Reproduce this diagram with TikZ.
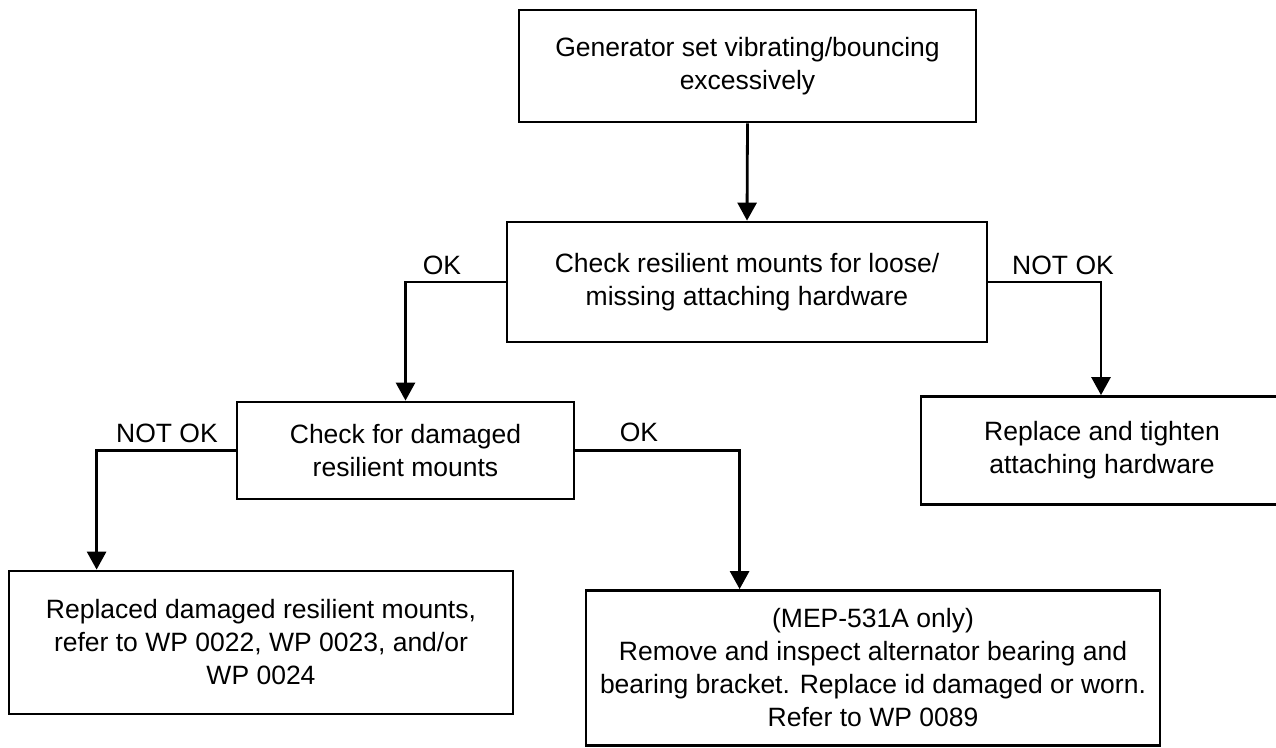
\documentclass[tikz,border=0pt]{standalone}
\usepackage{fontspec}
\setmainfont{Liberation Sans}
\usetikzlibrary{arrows.meta,positioning,calc}
\begin{document}
\begin{tikzpicture}[x=1pt,y=-1pt,
  font=\fontsize{26.5}{33}\selectfont,
  box/.style={draw=black,line width=2.8pt,rectangle,align=center,inner sep=0pt,
    minimum width=#1},
  conn/.style={draw=black,line width=2.8pt,-{Triangle[length=18pt,width=19pt]}},
  lbl/.style={inner sep=0pt}]
\useasboundingbox (0,0) rectangle (1276,747);
\fill[white] (0,0) rectangle (1276,747);
\node[box=457pt,minimum height=112pt] (b1) at (747.5,66) {Generator set vibrating/bouncing\\excessively};
\node[box=480pt,minimum height=120pt] (b2) at (747,282) {Check resilient mounts for loose/\\missing attaching hardware};
\node[box=337pt,minimum height=97pt] (b3) at (405.5,450.5) {Check for damaged\\resilient mounts};
\node[box=362pt,minimum height=108pt] (b6) at (1102,450.5) {Replace and tighten\\attaching hardware};
\node[box=504pt,minimum height=143pt] (b4) at (261,642.5) {Replaced damaged resilient mounts,\\refer to WP 0022, WP 0023, and/or\\WP 0024};
\node[box=574pt,minimum height=155pt] (b5) at (873,668) {(MEP-531A only)\\Remove and inspect alternator bearing and\\bearing bracket. Replace id damaged or worn.\\Refer to WP 0089};
\draw[conn] (b1.south) -- (b2.north);
\draw[conn] (b2.west) -| (b3.north);
\draw[conn] (b2.east) -| ([xshift=-1pt]b6.north);
\draw[conn] (b3.west) -| ([xshift=89pt]b4.north west);
\draw[conn] (b3.east) -| ([xshift=155pt]b5.north west);
\node[lbl] (l1) at (442,265) {OK};
\node[lbl] (l2) at (1063,265) {NOT OK};
\node[lbl] (l3) at (167,433) {NOT OK};
\node[lbl] (l4) at (639,432) {OK};
\end{tikzpicture}
\end{document}
